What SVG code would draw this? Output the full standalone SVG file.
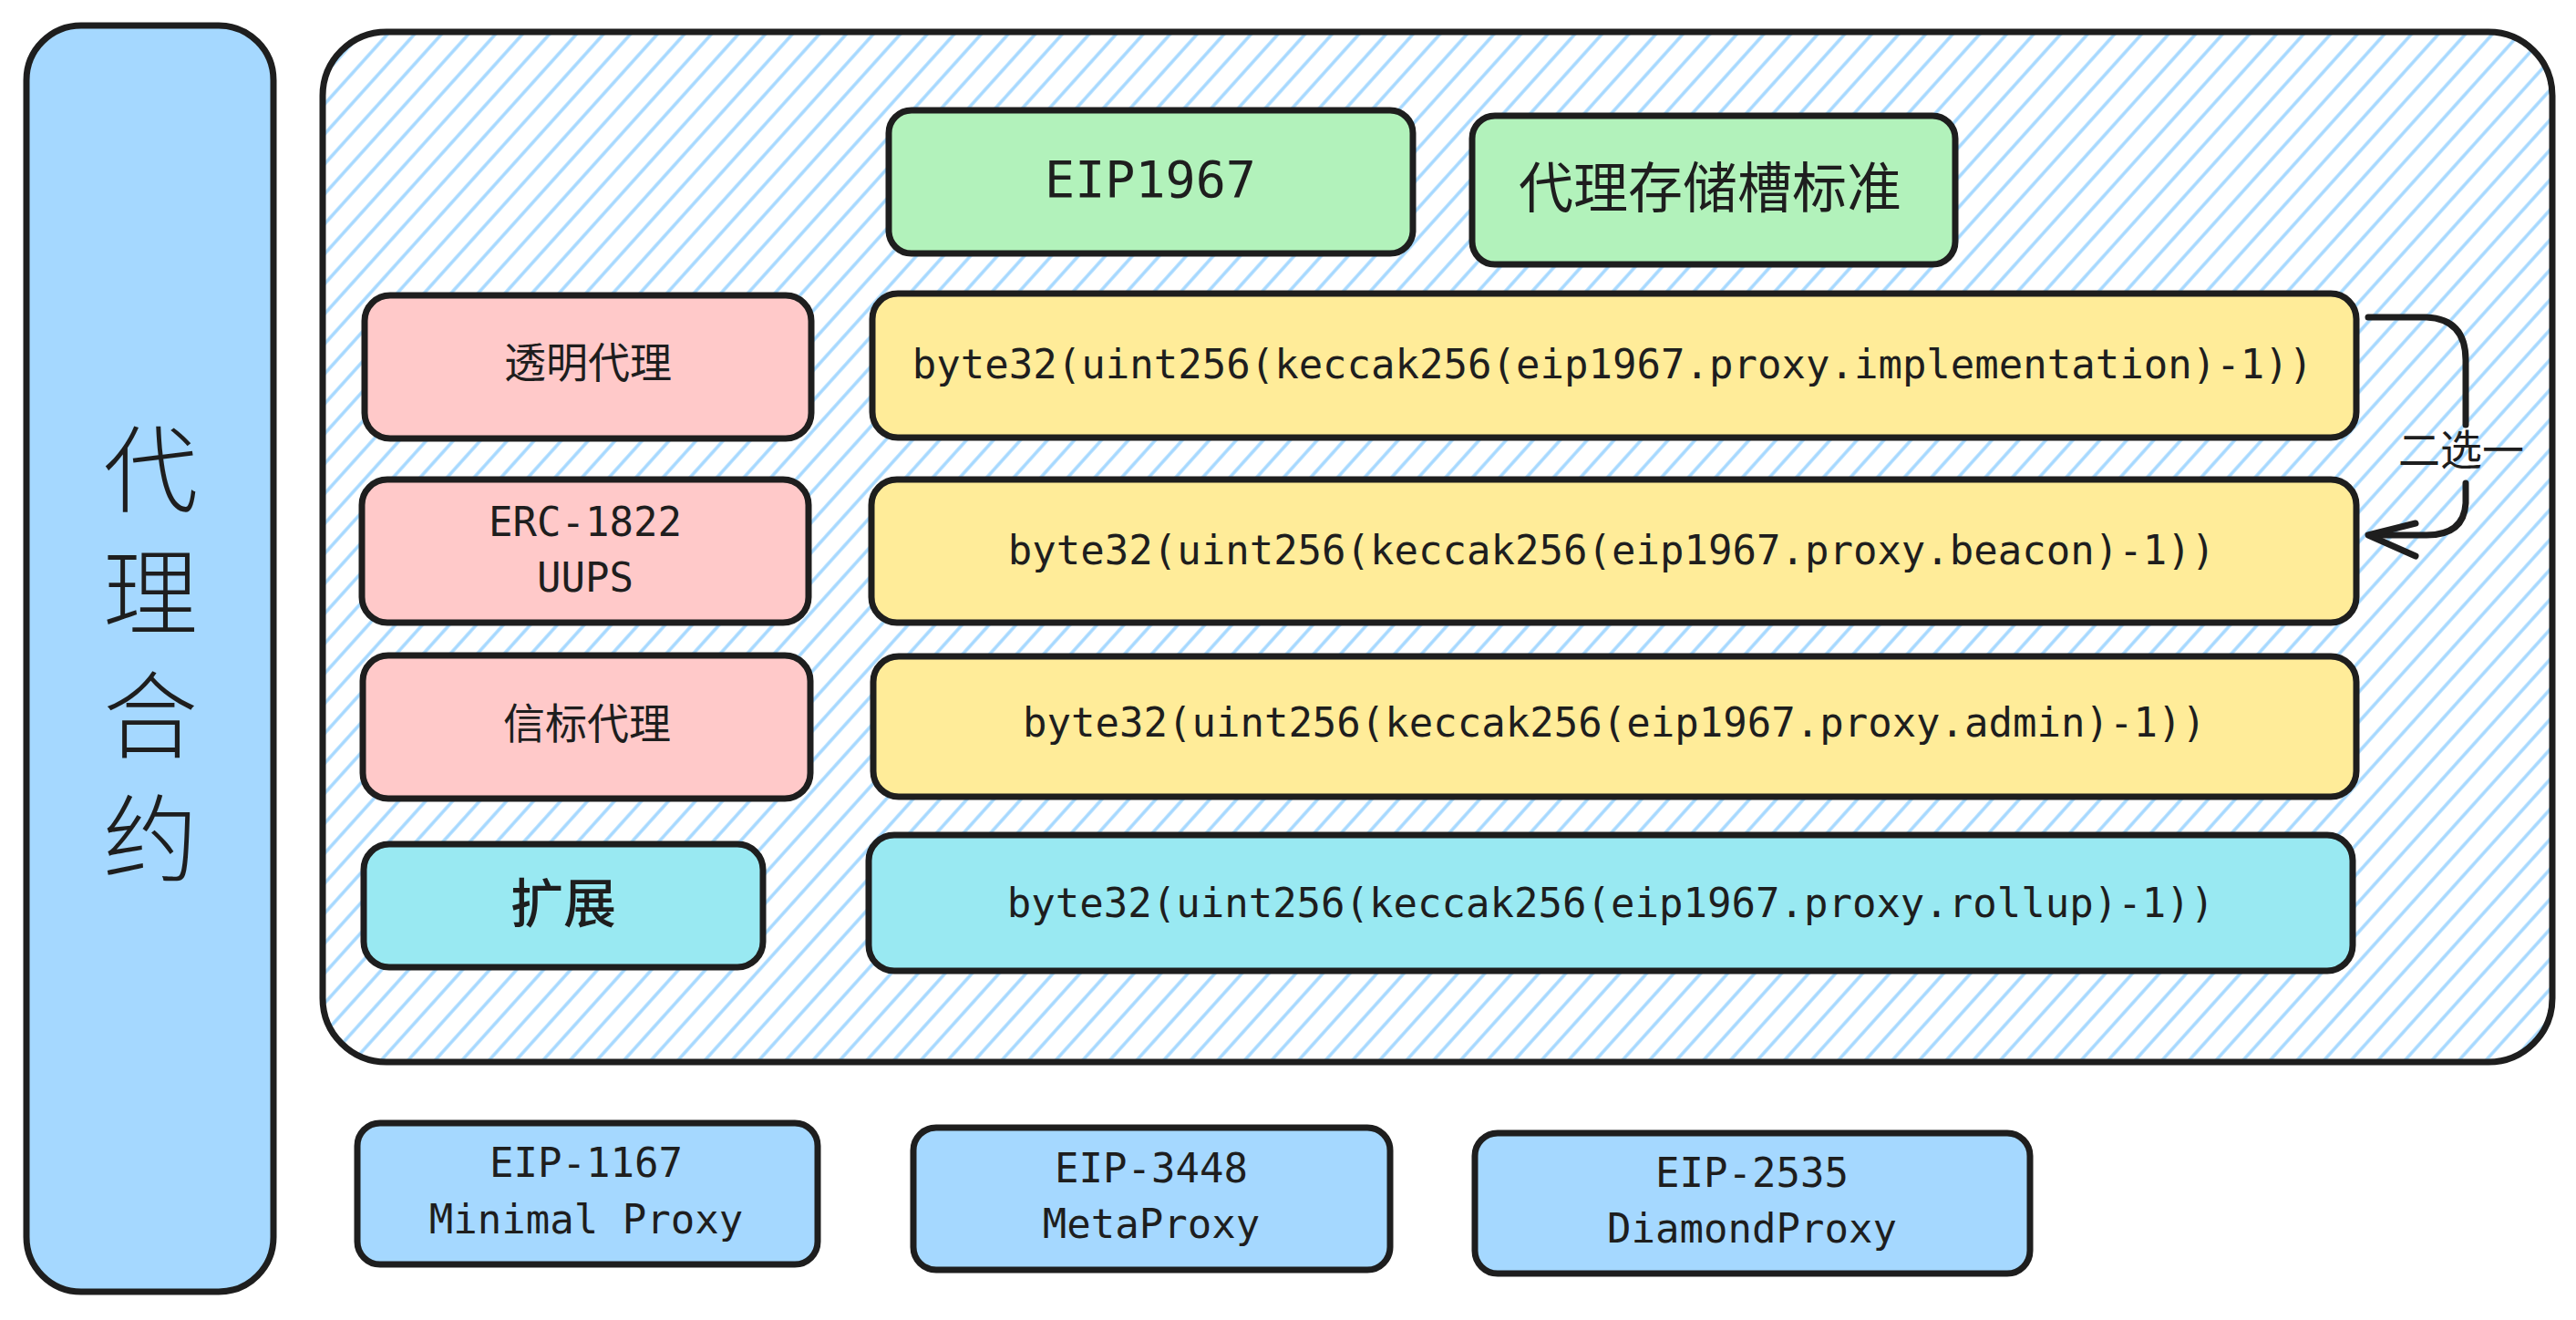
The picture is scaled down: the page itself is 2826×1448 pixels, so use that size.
<svg xmlns="http://www.w3.org/2000/svg" width="2826" height="1448" viewBox="0 0 2826 1448">
<style>
.box{stroke:#1e1e1e;stroke-width:7;stroke-linejoin:round}
.blue{fill:#a5d8ff}.green{fill:#b2f2bb}.pink{fill:#ffc9c9}.yellow{fill:#ffec99}.cyan{fill:#99e9f2}
.mono{font-family:"DejaVu Sans Mono","Liberation Mono",monospace;fill:#1e1e1e;text-anchor:middle;dominant-baseline:central}
.cjk{font-family:"Noto Sans CJK SC","Noto Sans",sans-serif;fill:#1e1e1e;text-anchor:middle;dominant-baseline:central}
.conn{fill:none;stroke:#1e1e1e;stroke-width:7;stroke-linecap:round;stroke-linejoin:round}
</style>
<defs>
<pattern id="hatch" patternUnits="userSpaceOnUse" width="22" height="22" patternTransform="rotate(42)">
<line x1="11" y1="0" x2="11" y2="22" stroke="#a5d8ff" stroke-width="3.5"/>
</pattern>
</defs>
<rect width="2826" height="1448" fill="#ffffff"/>

<g id="contract">
<rect class="box blue" x="29" y="28" width="271" height="1389" rx="60"/>
<text x="165" y="732" font-size="104" font-weight="300" writing-mode="vertical-rl" letter-spacing="31" text-anchor="middle" font-family="'Noto Sans CJK SC','Noto Sans',sans-serif" fill="#1e1e1e">代理合约</text>
</g>

<g id="container">
<rect x="354" y="35" width="2446" height="1130" rx="70" fill="url(#hatch)" stroke="#1e1e1e" stroke-width="7"/>
</g>

<g id="eip1967">
<rect class="box green" x="975" y="121" width="575" height="157" rx="25"/>
<text class="mono" x="1262" y="197" font-size="55">EIP1967</text>
</g>
<g id="slot-standard">
<rect class="box green" x="1615" y="127" width="530" height="163" rx="25"/>
<text class="cjk" x="1876" y="201" font-size="60">代理存储槽标准</text>
</g>

<g id="transparent">
<rect class="box pink" x="400" y="324" width="490" height="157" rx="28"/>
<text class="cjk" x="645" y="394" font-size="46">透明代理</text>
</g>
<g id="uups">
<rect class="box pink" x="397" y="526" width="490" height="157" rx="28"/>
<text class="mono" x="642" y="572" font-size="44">ERC-1822</text>
<text class="mono" x="642" y="633" font-size="44">UUPS</text>
</g>
<g id="beacon">
<rect class="box pink" x="398" y="719" width="491" height="157" rx="28"/>
<text class="cjk" x="644" y="790" font-size="46">信标代理</text>
</g>
<g id="extension">
<rect class="box cyan" x="399" y="926" width="438" height="135" rx="28"/>
<text class="cjk" x="618" y="987" font-size="58" font-weight="500">扩展</text>
</g>

<g id="slot-impl">
<rect class="box yellow" x="957" y="322" width="1628" height="158" rx="28"/>
<text class="mono" x="1769" y="399" font-size="44">byte32(uint256(keccak256(eip1967.proxy.implementation)-1))</text>
</g>
<g id="slot-beacon">
<rect class="box yellow" x="956" y="526" width="1629" height="157" rx="28"/>
<text class="mono" x="1768" y="603" font-size="44">byte32(uint256(keccak256(eip1967.proxy.beacon)-1))</text>
</g>
<g id="slot-admin">
<rect class="box yellow" x="958" y="720" width="1627" height="154" rx="28"/>
<text class="mono" x="1771" y="792" font-size="44">byte32(uint256(keccak256(eip1967.proxy.admin)-1))</text>
</g>
<g id="slot-rollup">
<rect class="box cyan" x="953" y="916" width="1628" height="149" rx="28"/>
<text class="mono" x="1767" y="990" font-size="44">byte32(uint256(keccak256(eip1967.proxy.rollup)-1))</text>
</g>

<g id="eip1167">
<rect class="box blue" x="392" y="1232" width="505" height="155" rx="25"/>
<text class="mono" x="643" y="1275" font-size="44">EIP-1167</text>
<text class="mono" x="643" y="1337" font-size="44">Minimal Proxy</text>
</g>
<g id="eip3448">
<rect class="box blue" x="1002" y="1237" width="523" height="156" rx="25"/>
<text class="mono" x="1263" y="1281" font-size="44">EIP-3448</text>
<text class="mono" x="1263" y="1342" font-size="44">MetaProxy</text>
</g>
<g id="eip2535">
<rect class="box blue" x="1618" y="1243" width="609" height="154" rx="25"/>
<text class="mono" x="1922" y="1286" font-size="44">EIP-2535</text>
<text class="mono" x="1922" y="1347" font-size="44">DiamondProxy</text>
</g>

<g id="connectors">
<path class="conn" d="M2598 348 L2662 348 Q2705 350 2705 395 L2705 466"/>
<path class="conn" d="M2705 530 L2705 552 Q2703 587 2662 587 L2600 587"/>
<path class="conn" d="M2650 574 L2598 587 L2650 610"/>
<text class="cjk" x="2700" y="490" font-size="46">二选一</text>
</g>
</svg>
